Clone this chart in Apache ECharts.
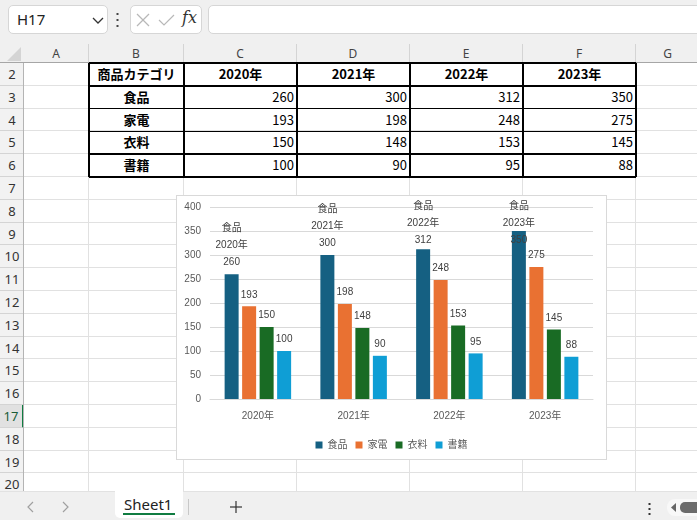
<!DOCTYPE html>
<html lang="ja">
<head>
<meta charset="UTF-8">
<title>商品カテゴリ別売上</title>
<script src="https://cdn.jsdelivr.net/npm/echarts@6.0.0/dist/echarts.min.js"></script>
<style>
  html, body {
    margin: 0;
    padding: 0;
    width: 697px;
    height: 520px;
    overflow: hidden;
    background: #f0f0f0;
    font-family: 'Noto Sans', 'Noto Sans CJK JP', sans-serif;
  }
  .abs { position: absolute; box-sizing: border-box; }
  .box { background: #fff; border: 1px solid #d6d6d6; border-radius: 5px; }
  .colhead { top: 44px; height: 19px; font-size: 12px; color: #444; text-align: center; line-height: 19px; border-right: 1px solid #d4d4d4; }
  .rowhead { left: 0; width: 24px; font-size: 13px; color: #333; text-align: center; border-bottom: 1px solid #d4d4d4; background: #f2f2f2; }
  .cell { font-family: 'Noto Sans CJK JP', sans-serif; font-size: 13px; color: #000; white-space: nowrap; }
  #chart { left: 176px; top: 195px; width: 431px; height: 265px; border: 1px solid #d9d9d9; background: #fff; z-index: 5; }
</style>
</head>
<body>
  <!-- formula bar -->
  <div class="abs box" style="left:8px;top:5px;width:100px;height:29px;">
    <span class="abs" style="left:8px;top:3px;font-size:15px;color:#222;">H17</span>
    <svg class="abs" style="left:83px;top:9px;" width="12" height="10"><polyline points="1,3 6,8 11,3" fill="none" stroke="#333" stroke-width="1.3"/></svg>
  </div>
  <svg class="abs" style="left:116px;top:12px;" width="4" height="16">
    <rect x="0.5" y="1" width="2" height="2" fill="#444"/><rect x="0.5" y="7" width="2" height="2" fill="#444"/><rect x="0.5" y="13" width="2" height="2" fill="#444"/>
  </svg>
  <div class="abs box" style="left:130px;top:5px;width:72px;height:29px;">
    <svg class="abs" style="left:5px;top:7px;" width="40" height="14">
      <line x1="1" y1="1" x2="13" y2="13" stroke="#b8b8b8" stroke-width="1.2"/>
      <line x1="13" y1="1" x2="1" y2="13" stroke="#b8b8b8" stroke-width="1.2"/>
      <polyline points="23,7 28,12 38,2" fill="none" stroke="#b8b8b8" stroke-width="1.2"/>
    </svg>
    <span class="abs" style="left:51px;top:2px;font-family:'DejaVu Serif',serif;font-style:italic;font-size:16px;color:#333;">fx</span>
  </div>
  <div class="abs box" style="left:208px;top:5px;width:500px;height:29px;"></div>

  <!-- sheet -->
  <div class="abs" style="left:0;top:63px;width:697px;height:428px;background:#fff;"></div>
  <svg class="abs" style="left:7px;top:47px;" width="15" height="15"><polygon points="14,0 14,14 0,14" fill="#d4d4d4"/></svg>
  <div id="sheet"></div>
  <div class="abs" style="left:0;top:62px;width:697px;height:1px;background:#a6a6a6;z-index:2;"></div>
  <div class="abs" style="left:23px;top:63px;width:1px;height:428px;background:#b4b4b4;z-index:2;"></div>

  <div id="chart" class="abs"></div>

  <!-- sheet tabs -->
  <div class="abs" style="left:0;top:491px;width:697px;height:29px;background:#f0f0f0;border-top:1px solid #e2e2e2;z-index:6;">
    <svg class="abs" style="left:26px;top:9px;" width="44" height="12">
      <polyline points="7,1 2,6 7,11" fill="none" stroke="#a0a0a0" stroke-width="1.2"/>
      <polyline points="37,1 42,6 37,11" fill="none" stroke="#a0a0a0" stroke-width="1.2"/>
    </svg>
    <div class="abs" style="left:115px;top:-1px;width:68px;height:27px;background:#fff;border-radius:0 0 5px 5px;">
      <span class="abs" style="left:9px;top:3px;font-size:15px;color:#222;">Sheet1</span>
      <div class="abs" style="left:8px;top:22px;width:52px;height:2px;background:#107c41;"></div>
    </div>
    <div class="abs" style="left:188px;top:7px;width:1px;height:16px;background:#c8c8c8;"></div>
    <svg class="abs" style="left:229px;top:8px;" width="14" height="14">
      <line x1="7" y1="1" x2="7" y2="13" stroke="#333" stroke-width="1.2"/>
      <line x1="1" y1="7" x2="13" y2="7" stroke="#333" stroke-width="1.2"/>
    </svg>
    <svg class="abs" style="left:648px;top:11px;" width="4" height="14">
      <rect x="0.5" y="0" width="2" height="2" fill="#333"/><rect x="0.5" y="5" width="2" height="2" fill="#333"/><rect x="0.5" y="10" width="2" height="2" fill="#333"/>
    </svg>
    <div class="abs" style="left:667px;top:7px;width:40px;height:17px;background:#f8f8f8;border-radius:8px;">
      <svg class="abs" style="left:4px;top:4px;" width="6" height="9"><polygon points="5,0 5,9 0,4.5" fill="#666"/></svg>
      <div class="abs" style="left:13px;top:3px;width:30px;height:11px;background:#6b6b6b;border-radius:5px;"></div>
    </div>
  </div>

<script>
  // --- data ---
  const categories = ['食品', '家電', '衣料', '書籍'];
  const years = ['2020年', '2021年', '2022年', '2023年'];
  const food = [260, 300, 312, 350];
  const appliances = [193, 198, 248, 275];
  const clothing = [150, 148, 153, 145];
  const books = [100, 90, 95, 88];
  const headerLabel = '商品カテゴリ';
  const colLetters = ['A', 'B', 'C', 'D', 'E', 'F', 'G'];
  const rowNumbers = [2, 3, 4, 5, 6, 7, 8, 9, 10, 11, 12, 13, 14, 15, 16, 17, 18, 19, 20];

  const seriesValues = [food, appliances, clothing, books];
  const colors = ['#156082', '#E97132', '#196B24', '#0F9ED5'];

  // --- spreadsheet layout ---
  const colEdges = [24, 89, 184, 297, 410, 523, 636, 700];
  const rowTop = 63, rowH = 22.8;
  const sheet = document.getElementById('sheet');

  function add(cls, style, text) {
    const d = document.createElement('div');
    d.className = 'abs ' + cls;
    Object.assign(d.style, style);
    if (text !== undefined) d.textContent = text;
    sheet.appendChild(d);
    return d;
  }

  colLetters.forEach((c, i) => {
    add('colhead', { left: colEdges[i] + 'px', width: (colEdges[i + 1] - colEdges[i]) + 'px' }, c);
    add('', { left: colEdges[i + 1] - 1 + 'px', top: rowTop + 'px', width: '1px', height: '428px', background: '#e1e1e1' });
  });

  rowNumbers.forEach((r, i) => {
    const y = rowTop + i * rowH;
    const h = add('rowhead', { top: y + 'px', height: rowH + 'px', lineHeight: rowH + 'px' }, String(r));
    if (r === 17) {
      h.style.background = '#e1e1e1';
      h.style.color = '#185c37';
      h.style.borderRight = '2px solid #107c41';
    }
    add('', { left: '24px', top: (y + rowH - 1) + 'px', width: '673px', height: '1px', background: '#e1e1e1' });
  });

  // table B2:F6
  const tableRows = [[headerLabel].concat(years)].concat(
    categories.map((c, i) => [c].concat(seriesValues[i].map(String)))
  );
  tableRows.forEach((row, ri) => {
    row.forEach((txt, ci) => {
      const x0 = colEdges[ci + 1], x1 = colEdges[ci + 2];
      const st = {
        left: x0 + 'px', width: (x1 - x0) + 'px',
        top: (rowTop + ri * rowH) + 'px', height: rowH + 'px', lineHeight: rowH + 'px'
      };
      if (ri === 0 || ci === 0) {
        st.textAlign = 'center';
        st.fontWeight = 'bold';
      } else {
        st.textAlign = 'right';
        st.paddingRight = '3px';
      }
      add('cell', st, txt);
    });
  });
  for (let k = 1; k <= 6; k++) {
    add('', { left: colEdges[k] - 0.75 + 'px', top: rowTop + 'px', width: '1.5px', height: 5 * rowH + 'px', background: '#000', zIndex: 3 });
  }
  for (let k = 0; k <= 5; k++) {
    add('', { left: colEdges[1] + 'px', top: rowTop + k * rowH - 0.75 + 'px', width: (colEdges[6] - colEdges[1]) + 'px', height: '1.5px', background: '#000', zIndex: 3 });
  }

  // --- chart ---
  const font = "'Liberation Sans', 'Noto Sans CJK JP', sans-serif";
  const chart = echarts.init(document.getElementById('chart'));

  // keep the tall label inside the chart area, like Excel does
  const clampTop = params => {
    const minY = 2;
    if (params.labelRect.y < minY) return { dy: minY - params.labelRect.y };
  };

  const series = categories.map((name, i) => ({
    name: name,
    type: 'bar',
    data: seriesValues[i],
    barWidth: 14,
    barGap: '25%',
    itemStyle: { color: colors[i] },
    label: {
      show: true,
      position: 'top',
      distance: 3,
      color: '#404040',
      fontSize: 10,
      fontFamily: font,
      lineHeight: 17,
      formatter: i === 0 ? '{a}\n{b}\n{c}' : '{c}'
    },
    labelLayout: i === 0 ? clampTop : null
  }));

  chart.setOption({
    animation: false,
    textStyle: { fontFamily: font },
    grid: { left: 33, right: 13, top: 11, bottom: 60, outerBoundsMode: 'none' },
    legend: {
      data: categories,
      top: 239,
      left: 'center',
      icon: 'rect',
      itemWidth: 7,
      itemHeight: 7,
      itemGap: 8,
      textStyle: { fontSize: 10, color: '#595959', fontFamily: font }
    },
    xAxis: {
      type: 'category',
      data: years,
      axisTick: { show: false },
      axisLine: { lineStyle: { color: '#d9d9d9' } },
      axisLabel: { color: '#595959', fontSize: 10, margin: 12 }
    },
    yAxis: {
      type: 'value',
      min: 0,
      max: 400,
      interval: 50,
      axisLine: { show: false },
      axisTick: { show: false },
      splitLine: { lineStyle: { color: '#d9d9d9' } },
      axisLabel: { color: '#595959', fontSize: 10, margin: 9 }
    },
    series: series
  });
</script>
</body>
</html>
